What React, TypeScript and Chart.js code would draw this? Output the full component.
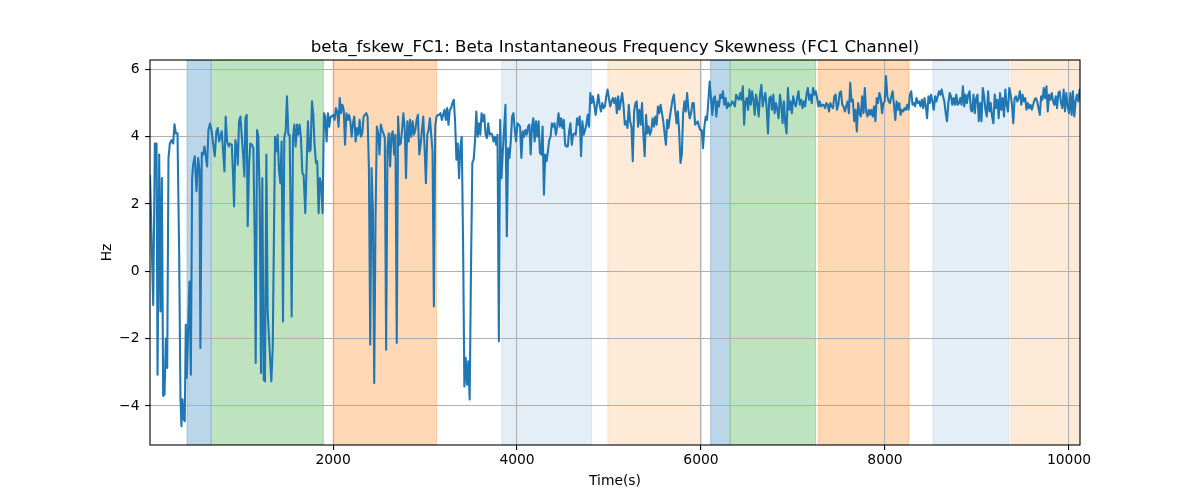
import { useEffect, useRef } from "react";
import { Chart, registerables } from "chart.js";

Chart.register(...registerables);

// ---------- data ----------
const chartTitle = "beta_fskew_FC1: Beta Instantaneous Frequency Skewness (FC1 Channel)";
const xLabel = "Time(s)";
const yLabel = "Hz";

const xMin = 10;
const xMax = 10120;
const yMin = -5.16;
const yMax = 6.28;
const xTicks = [2000, 4000, 6000, 8000, 10000];
const yTicks = [-4, -2, 0, 2, 4, 6];

// first part of the series (irregular reading positions)
const earlyTimes = [
  10, 45, 63, 81, 92, 110, 124, 139, 153, 168,
  182, 197, 211, 226, 244, 262, 276, 291, 309, 327,
  341, 352, 363, 378, 388, 399, 410, 425, 439, 454,
  468, 479, 497, 515, 533, 548, 558, 573, 587, 602,
  616, 631, 645, 663, 678, 696, 714, 732, 747, 761,
  776, 790, 804, 819, 833, 848, 866, 880, 899, 913,
  924, 938, 953, 964, 978, 993, 1007, 1022, 1036, 1047,
  1061, 1072, 1087, 1101, 1119, 1134, 1148, 1159, 1174, 1188,
  1202, 1217, 1231, 1246, 1260, 1275, 1289, 1304, 1315, 1329,
  1344, 1358, 1369, 1383, 1398, 1412, 1427, 1441, 1456, 1470,
  1485, 1499, 1514, 1528, 1543, 1550, 1564, 1579, 1593, 1608,
  1622, 1637, 1651, 1666, 1680, 1698, 1713, 1727, 1742, 1756,
  1771, 1785, 1799, 1814, 1828, 1843, 1857, 1872, 1886, 1901,
  1915, 1930, 1944, 1959, 1973, 1988, 2002, 2017, 2031, 2045,
  2060,
];
const earlyValues = [
  2.87, -1.0, 3.8, 3.8, -3.07, 3.47, -1.19, 2.77, -3.7, -3.66,
  -2.0, -2.87, 3.37, 3.8, 3.9, 3.8, 4.37, 4.1, 4.1, 0.5,
  -3.76, -4.6, -3.8, -4.4, -4.45, -1.58, -3.17, -1.68, -0.3, -3.07,
  2.77, 3.17, 3.42, 2.38, 3.37, 3.02, -2.28, 3.52, 3.47, 3.71,
  3.42, 3.12, 4.2, 4.39, 4.2, 3.8, 3.42, 4.16, 4.26, 3.86,
  4.0, 4.16, 3.61, 2.97, 4.6, 3.86, 3.71, 3.8, 3.76, 2.87,
  1.93, 3.9, 3.71, 3.17, 4.46, 4.6, 4.06, 3.47, 2.82, 4.55,
  4.65, 1.34, 3.17, 3.8, 3.76, 3.66, 0.94, -2.72, 4.2, 4.0,
  2.28, -3.02, 2.77, -3.22, -3.27, 3.47, -1.19, -2.0, -2.57, -3.27,
  -2.28, 1.19, 4.0, 3.56, 4.06, 3.02, 2.62, 3.86, -1.49, 4.0,
  4.16, 5.2, 4.06, 4.06, 0.7, -1.34, 3.96, 4.36, 3.71, 4.36,
  4.06, 4.36, 3.96, 2.92, 2.87, 1.73, 3.17, 4.46, 3.56, 3.61,
  5.05, 4.65, 3.76, 3.22, 3.27, 1.73, 2.77, 2.57, 1.73, 4.7,
  4.6, 3.86, 4.7, 4.3, 4.6, 4.6, 4.65, 4.5, 4.85, 4.75,
  4.3,
];

// rest of the series, sampled every sampleStep seconds from laterStart
const laterStart = 2072.6;
const sampleStep = 14.414;
const valuesB = [
  5.15, 4.7, 4.95, 4.8, 3.76, 4.7, 4.5, 4.65, 4.46, 4.0,
  4.4, 4.6, 3.86, 4.26, 4.06, 4.5, 4.0, 4.1, 4.6, 4.65,
  4.7, 4.6, 3.07, -2.18, 3.07, 1.78, -3.32, 1.58, 4.3, 4.1,
  3.47, 4.36, 4.2, 4.1, 3.96, -2.33, 3.66, 4.1, 3.12, 4.06,
  4.16, 3.47, 4.06, -2.13, 4.6, 3.76, 3.8, 4.2, 4.7, 4.26,
  2.77, 4.46, 3.86, 4.5, 4.0, 4.46, 4.06, 4.2, 4.5, 4.65,
  3.47, 3.76, 4.2, 4.6, 3.66, 2.62, 4.06, 4.2, 4.55, 4.06,
  3.56, -1.04, 4.3, 4.6, 4.65, 4.65, 4.7, 4.5, 4.65, 4.8,
  4.5, 4.85, 4.36, 4.8, 4.85, 5.0, 5.1, 4.46, 3.32, 3.8,
  2.77, 3.71, 4.0, 0.94, -3.42, -2.57, -3.37, -2.67, -3.81, 0.1,
  3.22, 3.32, 3.86, 4.75, 4.0, 4.4, 4.06, 4.7, 4.46, 4.65,
  4.06, 3.96, 4.4, 4.06, 4.1, 4.06, 3.86, 4.0, 3.76, 4.06,
  -2.08, 4.5, 2.77, 3.56, 4.26, 4.95, 1.04, 3.66, 3.37, 3.86,
  4.6, 4.7, 4.2, 3.86, 4.4, 4.36,
];
const valuesC = [
  4.3, 3.37, 4.16, 4.0, 4.2, 4.06, 4.3, 4.36, 3.47, 4.3,
  4.55, 3.86, 4.46, 4.0, 4.46, 3.52, 3.47, 4.3, 2.28, 3.47,
  3.27, 3.56, 3.9, 4.0, 4.4, 4.3, 4.4, 4.06, 4.3, 4.7,
  4.3, 4.55, 4.26, 4.5, 3.76, 3.71, 3.71, 4.16, 4.4, 3.76,
  4.06, 4.1, 4.06, 4.55, 4.36, 4.6, 3.42, 4.46, 4.06, 4.2,
  4.36, 4.65, 4.3, 5.3, 5.0, 5.2, 4.95, 4.65, 4.95, 5.25,
  4.95, 4.75, 5.0, 4.85, 4.9, 5.2, 5.4, 5.15, 4.9, 5.05,
  5.15, 5.0, 5.15, 4.7, 5.2, 4.8, 5.05, 5.3, 4.95, 4.36,
  4.46, 4.26, 4.95, 4.46, 4.3, 3.27, 4.75, 5.0, 5.05, 4.3,
  4.8, 4.36, 5.0, 4.06, 3.42, 4.65, 4.1, 4.3, 4.06, 4.2,
  4.55, 4.3, 4.6, 4.36, 4.9, 4.7, 4.95, 4.7, 4.46, 4.1,
  3.76, 4.5, 4.26, 4.6, 4.85, 5.1, 5.25, 4.8, 4.4, 4.75,
  4.16, 3.22, 3.47, 4.7, 5.05, 4.75, 5.3, 4.8, 4.55, 4.7,
  5.0, 5.0, 4.36, 4.4, 4.46, 4.3, 4.2,
];
const valuesD = [
  4.2, 3.66, 4.3, 4.6, 4.5, 5.05, 5.64, 5.15, 4.65, 5.15,
  5.2, 4.6, 5.05, 4.9, 5.25, 5.15, 5.35, 4.95, 5.15, 4.85,
  5.0, 4.9, 4.95, 5.05, 5.0, 4.9, 5.25, 5.15, 5.1, 5.3,
  5.1, 5.5, 4.36, 5.05, 5.15, 4.8, 5.4, 4.95, 5.35, 5.1,
  4.65, 5.25, 5.0, 4.6, 5.25, 5.54, 4.9, 5.15, 5.3, 4.85,
  4.1, 5.15, 5.2, 4.8, 5.25, 4.7, 5.0, 4.8, 4.55, 5.25,
  4.95, 4.4, 5.05, 4.4, 4.1, 5.45, 4.8, 5.05, 4.7, 5.2,
  5.0, 4.9, 5.15, 5.35, 4.95, 5.1, 4.85, 5.05, 4.9, 5.25,
  5.45, 5.1, 5.25, 5.0, 5.45, 5.25, 5.35, 5.15, 4.9, 5.05,
  4.9, 4.95, 4.95, 4.85, 5.0, 4.95, 4.75, 5.0, 4.9, 4.85,
  5.2, 5.25, 4.8, 4.95, 5.3, 5.35, 4.95, 4.9, 4.75, 4.9,
  5.05, 4.7, 5.6, 5.05, 5.1, 4.46, 4.8, 4.16, 5.0, 4.7,
  4.6, 5.2, 4.7, 5.45, 4.75, 4.6, 4.8, 4.65, 4.8, 4.6,
  4.9, 4.46, 5.15, 5.0, 5.3, 5.15, 4.7, 5.0, 5.05, 5.8,
  5.2, 5.05, 5.0,
];
const valuesE = [
  5.2, 5.35, 4.95, 4.5, 5.05, 4.8, 5.0, 4.65, 4.8, 4.75,
  4.85, 4.8, 4.95, 4.8, 5.25, 5.35, 4.95, 5.0, 4.9, 5.15,
  5.0, 5.05, 4.9, 5.1, 4.85, 5.15, 4.9, 4.55, 5.2, 5.0,
  5.25, 5.05, 4.8, 5.2, 5.05, 5.2, 5.35, 5.25, 5.4, 5.2,
  5.05, 4.7, 4.46, 5.0, 5.3, 5.2, 4.95, 5.15, 4.95, 5.25,
  4.95, 5.0, 5.15, 4.95, 5.5, 4.9, 5.25, 5.0, 5.25, 5.35,
  4.8, 4.75, 5.25, 4.7, 5.15, 5.25, 4.46, 5.0, 4.46, 5.45,
  5.2, 4.8, 4.6, 5.35, 4.75, 5.0, 4.6, 4.4, 5.25, 4.85,
  5.1, 4.55, 5.3, 4.8, 5.15, 4.6, 5.4, 4.95, 4.75, 5.45,
  5.25, 4.95, 4.4, 5.15, 5.2, 5.05, 5.15, 5.35, 4.95, 5.25,
  5.05, 5.15, 4.8, 5.0, 4.85, 4.95, 4.8, 4.95, 5.1, 5.15,
  5.05, 4.85, 4.65, 5.2, 5.1, 5.45, 5.15, 5.5, 4.75, 5.25,
  5.1, 5.3, 5.05, 4.95, 5.2, 4.85, 5.3, 5.35, 5.0, 4.85,
  5.4, 4.75, 5.3, 4.9, 4.7, 5.3, 4.65, 5.35, 4.6, 5.05,
  5.25, 5.05, 5.4, 5.1,
];

// shaded intervals (seconds)
const spanStarts = [412, 677, 2000, 3834, 4987, 6104, 6321, 7278, 8521, 9369];
const spanEnds = [670, 1895, 3124, 4810, 6006, 6314, 7246, 8260, 9347, 10120];
const spanKinds = ["blue", "green", "orange", "lightblue", "lightorange", "blue", "green", "orange", "lightblue", "lightorange"];

// ---------- styles ----------
const SPAN_COLORS: Record<string, string> = {
  blue: "rgba(31,119,180,0.3)",
  green: "rgba(44,160,44,0.3)",
  orange: "rgba(255,127,14,0.3)",
  lightblue: "rgba(31,119,180,0.12)",
  lightorange: "rgba(255,127,14,0.16)",
};
const FONT = "'DejaVu Sans', 'Liberation Sans', sans-serif";
const TICK_PX = 13.89;
const TITLE_PX = 16.67;

const spanPlugin = {
  id: "spans",
  beforeDraw(chart: any) {
    const { ctx, chartArea, scales } = chart;
    const xs = scales.x;
    ctx.save();
    ctx.beginPath();
    ctx.rect(chartArea.left, chartArea.top, chartArea.right - chartArea.left, chartArea.bottom - chartArea.top);
    ctx.clip();
    spanStarts.forEach((s, i) => {
      const x0 = xs.getPixelForValue(s);
      const x1 = xs.getPixelForValue(spanEnds[i]);
      const c = SPAN_COLORS[spanKinds[i]];
      ctx.fillStyle = c;
      ctx.fillRect(x0, chartArea.top, x1 - x0, chartArea.bottom - chartArea.top);
      ctx.strokeStyle = c;
      ctx.lineWidth = 1;
      ctx.strokeRect(x0, chartArea.top, x1 - x0, chartArea.bottom - chartArea.top);
    });
    ctx.restore();
  },
};

const framePlugin = {
  id: "frame",
  afterDatasetsDraw(chart: any) {
    const { ctx, chartArea } = chart;
    ctx.save();
    ctx.strokeStyle = "#000";
    ctx.lineWidth = 1.1;
    ctx.strokeRect(chartArea.left, chartArea.top, chartArea.right - chartArea.left, chartArea.bottom - chartArea.top);
    ctx.restore();
  },
  afterDraw(chart: any) {
    const { ctx, chartArea } = chart;
    ctx.save();
    ctx.fillStyle = "#000";
    ctx.font = `${TITLE_PX}px ${FONT}`;
    ctx.textAlign = "center";
    ctx.textBaseline = "alphabetic";
    ctx.fillText(chartTitle, (chartArea.left + chartArea.right) / 2, chartArea.top - 8.3);
    ctx.restore();
  },
};

export default function App() {
  const ref = useRef<HTMLCanvasElement | null>(null);

  useEffect(() => {
    if (!ref.current) return;
    const later = [...valuesB, ...valuesC, ...valuesD, ...valuesE];
    const points = [
      ...earlyTimes.map((t, i) => ({ x: t, y: earlyValues[i] })),
      ...later.map((v, i) => ({ x: laterStart + i * sampleStep, y: v })),
    ];
    const chart = new Chart(ref.current, {
      type: "line",
      data: {
        datasets: [
          {
            data: points,
            borderColor: "#1f77b4",
            borderWidth: 2.08,
            pointRadius: 0,
            fill: false,
            tension: 0,
            borderJoinStyle: "round",
          },
        ],
      },
      options: {
        animation: false,
        responsive: false,
        devicePixelRatio: 1,
        parsing: false,
        layout: { padding: { left: 0, right: 120, top: 60, bottom: 0 } },
        plugins: {
          legend: { display: false },
          tooltip: { enabled: false },
          title: { display: false },
        },
        scales: {
          x: {
            type: "linear",
            min: xMin,
            max: xMax,
            afterBuildTicks: (s: any) => {
              s.ticks = xTicks.map((v) => ({ value: v }));
            },
            afterFit: (s: any) => {
              s.height = 55;
            },
            ticks: {
              color: "#000",
              font: { family: FONT, size: TICK_PX },
              padding: 2.6,
              maxRotation: 0,
              autoSkip: false,
              callback: (v: any) => String(v),
            },
            grid: {
              color: "#b0b0b0",
              lineWidth: 1.1,
              tickColor: "#000",
              tickWidth: 1.1,
              tickLength: 4.9,
              drawTicks: true,
            },
            border: { display: false },
            title: {
              display: true,
              text: xLabel,
              color: "#000",
              font: { family: FONT, size: TICK_PX },
              padding: { top: 0, bottom: 10.6 },
            },
          },
          y: {
            type: "linear",
            min: yMin,
            max: yMax,
            afterBuildTicks: (s: any) => {
              s.ticks = yTicks.map((v) => ({ value: v }));
            },
            afterFit: (s: any) => {
              s.width = 150;
            },
            ticks: {
              color: "#000",
              font: { family: FONT, size: TICK_PX },
              padding: 5.6,
              autoSkip: false,
              callback: (v: any) => (v < 0 ? "\u2212" + Math.abs(v) : String(v)),
            },
            grid: {
              color: "#b0b0b0",
              lineWidth: 1.1,
              tickColor: "#000",
              tickWidth: 1.1,
              tickLength: 4.9,
              drawTicks: true,
            },
            border: { display: false },
            title: {
              display: true,
              text: yLabel,
              color: "#000",
              font: { family: FONT, size: TICK_PX },
              padding: { top: 99, bottom: 0 },
            },
          },
        },
      } as any,
      plugins: [spanPlugin, framePlugin],
    });
    return () => chart.destroy();
  }, []);

  return (
    <div style={{ position: "absolute", left: 0, top: 0, width: 1200, height: 500, background: "#fff" }}>
      <canvas ref={ref} width={1200} height={500} style={{ width: 1200, height: 500 }} />
    </div>
  );
}
